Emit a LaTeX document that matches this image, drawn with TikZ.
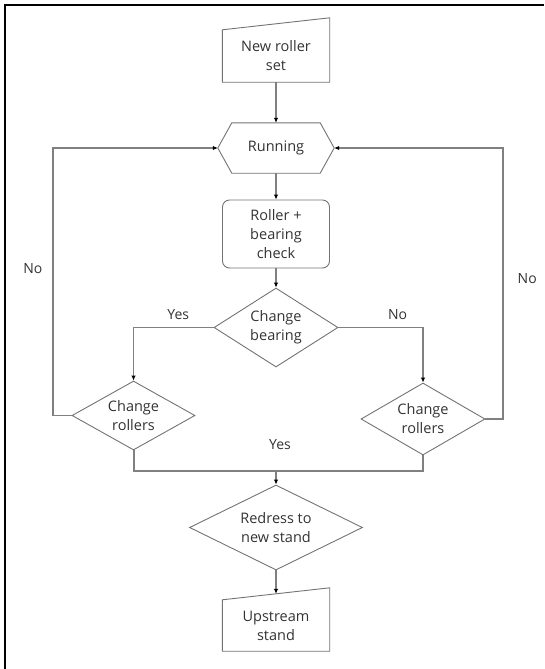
\documentclass[tikz,border=0pt]{standalone}
\usepackage{fontspec}
\setmainfont{Open Sans}
\usetikzlibrary{shapes.geometric,arrows.meta}

\begin{document}
\begin{tikzpicture}[x=1pt, y=-1pt,
    txt/.style={font=\fontsize{14.5}{19}\selectfont, text=black!80, align=center, inner sep=0pt},
    io/.style={txt, minimum width=107pt, minimum height=52pt},
    hexa/.style={txt, minimum width=116pt, minimum height=50pt},
    proc/.style={txt, draw=black!55, line width=0.9pt, rounded corners=7pt, minimum width=107pt, minimum height=68pt},
    decide/.style={txt, diamond, aspect=1.6, draw=black!55, line width=0.9pt},
    outline/.style={draw=black!55, line width=0.9pt},
    link/.style={draw=black!50, line width=1.4pt},
    arr/.style={link, -{Latex[length=5pt, width=4.5pt, black]}},
    lbl/.style={font=\fontsize{14}{17}\selectfont, text=black!80, inner sep=0pt}]
    \useasboundingbox (0,0) rectangle (544,669);
    \draw [line width=2pt] (5,669) -- (5,5) -- (544,5);

    \node [io](newset) at (276,56) {New roller\\set};
    \node [hexa](running) at (276,148) {Running};
    \node [proc](check) at (276,234) {Roller +\\bearing\\check};
    \node [decide, minimum width=124pt, minimum height=79pt](bearing) at (276,327.5) {Change\\bearing};
    \node [decide, minimum width=123pt, minimum height=69pt](leftroll) at (133.5,415.5) {Change\\rollers};
    \node [decide, minimum width=124pt, minimum height=72pt](rightroll) at (423,419) {Change\\rollers};
    \node [decide, minimum width=173pt, minimum height=85pt](redress) at (276,527.5) {Redress to\\new stand};
    \node [io, minimum height=51pt](upstream) at (276,625.5) {Upstream\\stand};

    \draw [outline] (newset.south west) -- (newset.south east) -- ([yshift=12pt]newset.north east) -- (newset.north west) -- cycle;
    \draw [outline] (upstream.south west) -- (upstream.south east) -- ([yshift=12pt]upstream.north east) -- (upstream.north west) -- cycle;
    \draw [outline] (running.west) -- ([xshift=14pt]running.north west) -- ([xshift=-14pt]running.north east) -- (running.east) -- ([xshift=-14pt]running.south east) -- ([xshift=14pt]running.south west) -- cycle;

    \coordinate (lbend) at (53,415.5);
    \coordinate (rbend) at (503,419);
    \coordinate (join) at (276,471);

    \draw [arr] (newset.south) -- (running.north);
    \draw [arr] (running.south) -- (check.north);
    \draw [arr] (check.south) -- (bearing.north);
    \draw [arr] (bearing.west) -| (leftroll.north) node [lbl, pos=0.22, above=7pt] (yesleft) {Yes};
    \draw [arr] (bearing.east) -| (rightroll.north) node [lbl, pos=0.35, above=7pt] (noright) {No};
    \draw [arr] (leftroll.west) -- (lbend) |- (running.west) node [lbl, pos=0.275, left=10pt] (noleft) {No};
    \draw [arr] (rightroll.east) -- (rbend) |- (running.east) node [lbl, pos=0.26, right=14pt] (nofar) {No};
    \draw [link, line width=2pt] (leftroll.south) |- (join) -| (rightroll.south);
    \node [lbl](yesjoin) at (280,445) {Yes};
    \draw [arr] (join) -- (redress.north);
    \draw [arr] (redress.south) -- ([yshift=6pt]upstream.north);

\end{tikzpicture}
\end{document}
